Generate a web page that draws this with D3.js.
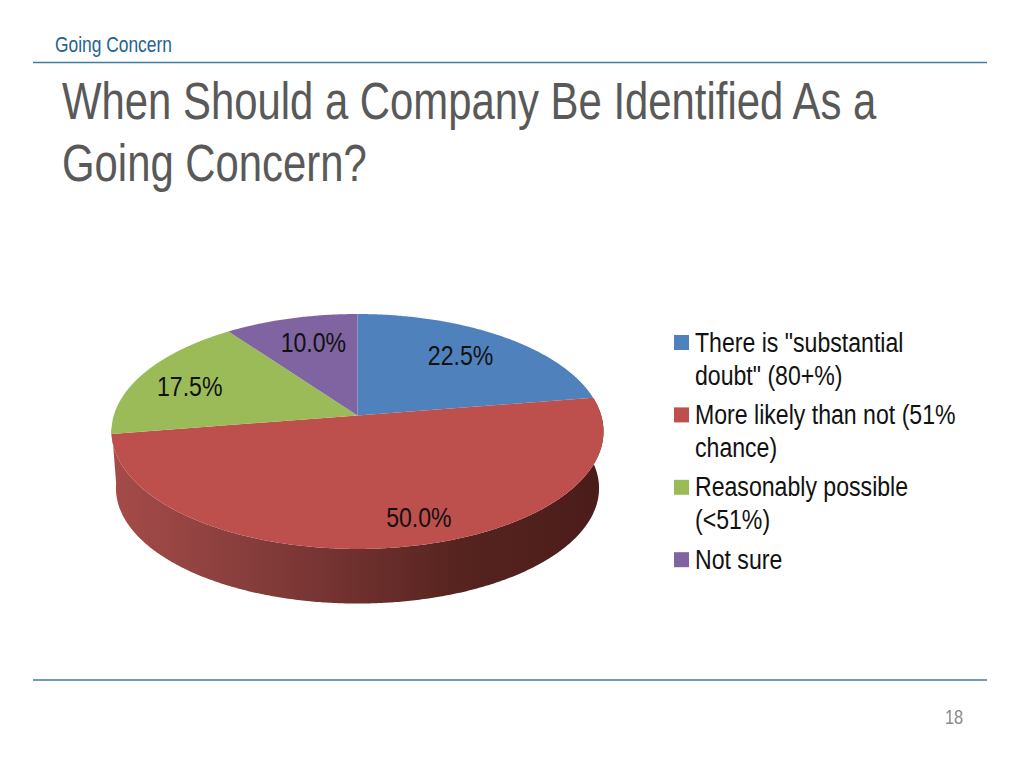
<!DOCTYPE html>
<html><head><meta charset="utf-8">
<script src="https://cdn.jsdelivr.net/npm/d3@7"></script>
<style>html,body{margin:0;background:#fff}svg{display:block}text{font-family:"Liberation Sans",Arial,sans-serif}</style>
</head><body><svg id="c" width="1024" height="768"></svg>
<script>
const categories = [['There is "substantial','doubt" (80+%)'],['More likely than not (51%','chance)'],['Reasonably possible','(<51%)'],['Not sure']];
const values = [22.5,50.0,17.5,10.0];
const colors = ['#4f81bd','#bd4f4c','#9bbb59','#8064a2'];
const valueLabels = ['22.5%','50.0%','17.5%','10.0%'];
const labelNudge = [[-3,-1],[31,11],[-11.5,2],[5.5,-1]];
const titleLines = ['When Should a Company Be Identified As a','Going Concern?'];
const svg = d3.select('#c');
const squeeze = 0.825;
function txt(s,x,y,size,fill,sx){
  return svg.append('text').attr('transform',`translate(${x},${y}) scale(${sx||squeeze},1)`).attr('font-size',size).attr('fill',fill).text(s);
}
// page furniture
[62.5,680].forEach(y=>svg.append('line').attr('x1',33).attr('x2',987).attr('y1',y).attr('y2',y).attr('stroke','#3d7ea6').attr('stroke-width',1.3));
txt('Going Concern',55,51.5,22,'#1f6391',0.79);
titleLines.forEach((t,i)=>txt(t,62,119+i*62,51,'#595959',0.821));
txt('18',945,724,20,'#8a8a8a',0.82);

// perspective disc
const cx=357.5, cy=415.5, k=-0.136, A=115.3, B=243.7, depth=55;
function project(a,r,scale,dy){
  const u=r*Math.sin(a), w=-r*Math.cos(a), d=1+k*w;
  return [cx+(scale||1)*B*u/d, cy+(dy||0)+(scale||1)*A*w/d];
}
const pie=d3.pie().sort(null).value(d=>d);
const arcs=pie(values);
const line=d3.line();
const step=Math.PI/360;
// wall: front part of rim, from the right silhouette round to the left silhouette
const frontA=d3.range(Math.PI*0.45,Math.PI*1.47,step);
const defs=svg.append('defs');
const grad=defs.append('linearGradient').attr('id','wall').attr('gradientUnits','userSpaceOnUse')
  .attr('x1',cx-B).attr('x2',cx+B).attr('y1',0).attr('y2',0);
[[0,'#a54b49'],[0.2,'#8f4240'],[0.45,'#743331'],[0.7,'#57241f'],[1,'#4a1c1a']].forEach(s=>grad.append('stop').attr('offset',s[0]).attr('stop-color',s[1]));
const wallScale=0.982;
const wallPts=frontA.map(a=>project(a,1)).concat(frontA.slice().reverse().map(a=>project(a,1,wallScale,depth+2)));
svg.append('path').attr('d',line(wallPts)+'Z').attr('fill','url(#wall)');
// top slices
svg.selectAll('path.s').data(arcs).join('path').attr('class','s')
  .attr('fill',(d,i)=>colors[i])
  .attr('d',d=>{
    const pts=[project(0,0)].concat(d3.range(d.startAngle,d.endAngle,step).map(a=>project(a,1)),[project(d.endAngle,1)]);
    return line(pts)+'Z';
  });
// value labels
arcs.forEach((d,i)=>{
  const p=project((d.startAngle+d.endAngle)/2,0.72);
  svg.append('text').attr('transform',`translate(${p[0]+labelNudge[i][0]},${p[1]+labelNudge[i][1]+9.5}) scale(${squeeze},1)`)
    .attr('font-size',28).attr('fill','#111').attr('text-anchor','middle').text(valueLabels[i]);
});
// legend
let row=0; const rowH=36.2, legendY=351.5;
categories.forEach((lines,i)=>{
  const y=legendY+row*rowH;
  svg.append('rect').attr('x',674).attr('y',y-16.5).attr('width',15).attr('height',15).attr('fill',colors[i]);
  lines.forEach((l,j)=>txt(l,695,y+j*33,28,'#111'));
  row+=lines.length;
});
</script></body></html>
